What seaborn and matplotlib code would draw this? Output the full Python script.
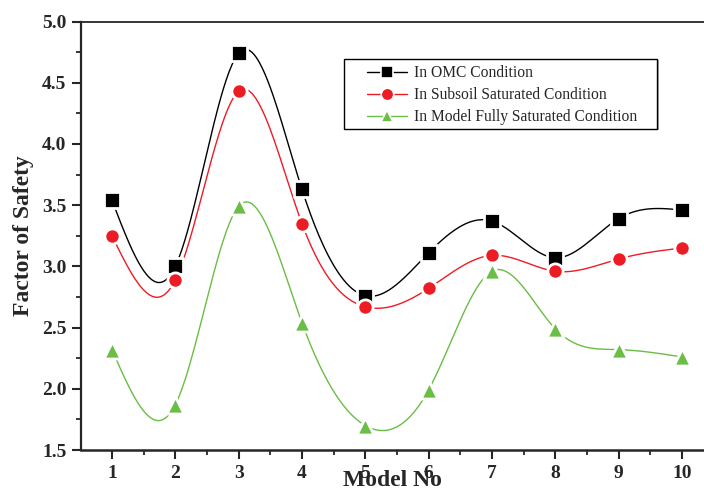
import numpy as np
import pandas as pd
import seaborn as sns
import matplotlib
matplotlib.use("Agg")
import matplotlib.pyplot as plt
from matplotlib.lines import Line2D
from matplotlib.patches import Rectangle
from matplotlib.ticker import MultipleLocator

model_no = [1, 2, 3, 4, 5, 6, 7, 8, 9, 10]
omc = [3.54, 3.00, 4.74, 3.63, 2.76, 3.11, 3.37, 3.07, 3.39, 3.46]
subsoil = [3.25, 2.89, 4.43, 3.35, 2.67, 2.82, 3.09, 2.96, 3.06, 3.15]
fully = [2.32, 1.87, 3.49, 2.54, 1.70, 1.99, 2.96, 2.49, 2.32, 2.26]

labels = ["In OMC Condition", "In Subsoil Saturated Condition",
          "In Model Fully Saturated Condition"]
colors = ["#000000", "#ed1c24", "#6abd45"]
markers = ["s", "o", "^"]


def spline(x, y, n=400):
    # natural cubic spline, like the "Spline" connect in Origin
    x = np.asarray(x, float)
    y = np.asarray(y, float)
    k = len(x)
    h = np.diff(x)
    A = np.zeros((k, k))
    r = np.zeros(k)
    A[0, 0] = A[-1, -1] = 1
    for i in range(1, k - 1):
        A[i, i - 1] = h[i - 1]
        A[i, i] = 2 * (h[i - 1] + h[i])
        A[i, i + 1] = h[i]
        r[i] = 6 * ((y[i + 1] - y[i]) / h[i] - (y[i] - y[i - 1]) / h[i - 1])
    m = np.linalg.solve(A, r)
    xs = np.linspace(x[0], x[-1], n)
    j = np.clip(np.searchsorted(x, xs) - 1, 0, k - 2)
    t = xs - x[j]
    hj = h[j]
    ys = (m[j] * (x[j + 1] - xs) ** 3 / (6 * hj) + m[j + 1] * t ** 3 / (6 * hj)
          + (y[j] / hj - m[j] * hj / 6) * (x[j + 1] - xs)
          + (y[j + 1] / hj - m[j + 1] * hj / 6) * t)
    return xs, ys


sns.set_style("ticks")
plt.rcParams["font.family"] = ["Liberation Serif", "DejaVu Serif"]

fig = plt.figure(figsize=(7.04, 4.91), dpi=100)
ax = fig.add_axes([0.115, 0.0835, 0.885, 0.8727])

for vals, lab, c, mk in zip([omc, subsoil, fully], labels, colors, markers):
    xs, ys = spline(model_no, vals)
    sns.lineplot(x=xs, y=ys, ax=ax, color=c, lw=1.0, sort=False, legend=False)
    df = pd.DataFrame({"x": model_no, "y": vals})
    ms = 150 if mk == "^" else 120
    sns.scatterplot(data=df, x="x", y="y", ax=ax, marker=mk, s=ms, color=c,
                    edgecolor="white", linewidth=2.0, legend=False, zorder=3)

ax.set_xlim(0.51, 10.35)
ax.set_ylim(1.5, 5.0)
ax.xaxis.set_major_locator(MultipleLocator(1))
ax.xaxis.set_minor_locator(MultipleLocator(0.5))
ax.yaxis.set_major_locator(MultipleLocator(0.5))
ax.yaxis.set_minor_locator(MultipleLocator(0.25))
ax.set_yticklabels([f"{v:.1f}" for v in ax.get_yticks()])

ax.tick_params(which="major", length=6.5, width=1.5, direction="out",
               labelsize=14, pad=4)
ax.tick_params(which="minor", length=3.5, width=1.3, direction="out")
for lbl in ax.get_xticklabels() + ax.get_yticklabels():
    lbl.set_fontweight("bold")

ax.spines["right"].set_visible(False)
ax.spines["left"].set_linewidth(1.6)
ax.spines["bottom"].set_linewidth(1.8)
ax.spines["top"].set_linewidth(1.3)

ax.set_xlabel("Model No", fontsize=17, fontweight="bold", labelpad=-8)
ax.set_ylabel("Factor of Safety", fontsize=17, fontweight="bold", labelpad=6)

# legend box with wide side padding, as in the original
ax.add_patch(Rectangle((0.4246, 0.7465), 0.5032, 0.1635, transform=ax.transAxes,
                       facecolor="#b0b0b0", edgecolor="none", zorder=4))
ax.add_patch(Rectangle((0.422, 0.749), 0.5026, 0.1635, transform=ax.transAxes,
                       facecolor="white", edgecolor="black", lw=1.0, zorder=4))

handles = [Line2D([], [], color=c, lw=1.0, marker=mk, markersize=9,
                  markeredgecolor="white", markeredgewidth=1.2)
           for c, mk in zip(colors, markers)]
leg = ax.legend(handles, labels, loc="upper left",
                bbox_to_anchor=(0.459, 0.8985), fontsize=11.2, frameon=False,
                handlelength=2.6, handletextpad=0.4,
                borderpad=0, labelspacing=0.4, borderaxespad=0)
leg.set_zorder(5)

fig.savefig("out.png", dpi=100)
